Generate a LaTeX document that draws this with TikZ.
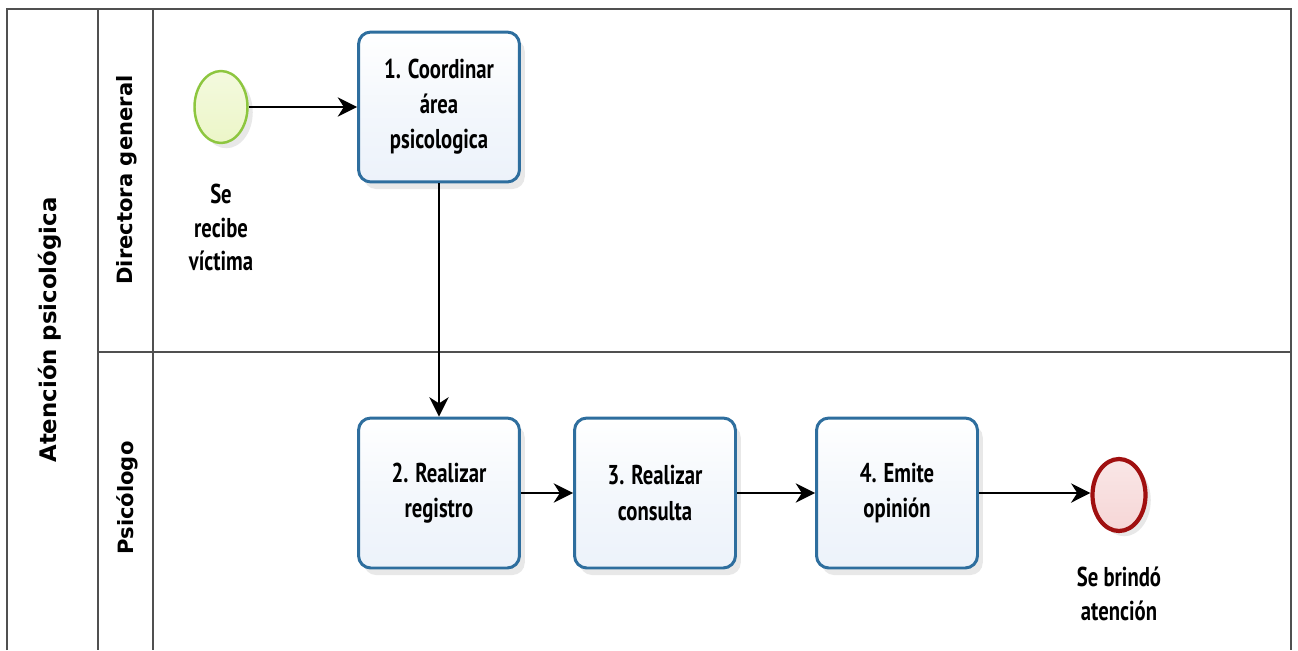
\documentclass[tikz,border=0pt]{standalone}
\usepackage{fontspec}
\setmainfont{PT Sans}
\newfontfamily\agency{PT Sans}[FakeStretch=0.76]
\newfontfamily\lanefont{DejaVu Sans}
\usetikzlibrary{arrows.meta,shapes.geometric,shadows}
\definecolor{taskborder}{RGB}{46,110,158}
\definecolor{taskfill}{RGB}{236,242,250}
\definecolor{startborder}{RGB}{141,198,63}
\definecolor{startfill}{RGB}{236,246,200}
\definecolor{endborder}{RGB}{160,16,16}
\definecolor{endfill}{RGB}{246,214,214}
\definecolor{laneline}{RGB}{80,80,80}
\tikzset{
  task/.style={draw=taskborder, line width=1.7pt, rounded corners=7pt,
    top color=white, bottom color=taskfill, middle color=taskfill!60,
    minimum width=3.22cm, minimum height=3.0cm, inner sep=0pt,
    align=center, font=\agency\bfseries\fontsize{15.5}{20}\selectfont,
    drop shadow={shadow xshift=3pt, shadow yshift=-4pt, opacity=0.18}},
  startev/.style={draw=startborder, ellipse, line width=1.4pt,
    top color=startfill!60, bottom color=startfill,
    minimum width=1.06cm, minimum height=1.44cm, inner sep=0pt,
    drop shadow={shadow xshift=3pt, shadow yshift=-3pt, opacity=0.18}},
  endev/.style={draw=endborder, ellipse, line width=2.4pt,
    top color=endfill!60, bottom color=endfill,
    minimum width=1.06cm, minimum height=1.44cm, inner sep=0pt,
    drop shadow={shadow xshift=3pt, shadow yshift=-3pt, opacity=0.18}},
  evlabel/.style={align=center, font=\agency\bfseries\fontsize{15.5}{19}\selectfont},
  flow/.style={line width=1pt, -{Stealth[length=11pt,width=11pt,inset=3.5pt]}},
  lane/.style={draw=laneline, line width=0.8pt},
  lanelabel/.style={rotate=90, font=\lanefont\bfseries\fontsize{12}{14}\selectfont}
}
\begin{document}
\begin{tikzpicture}[x=0.02cm, y=-0.02cm]
\useasboundingbox (0,0) rectangle (1298,650);
% pool and lanes
\draw[lane] (7,650) -- (7,9) -- (1291,9) -- (1291,650);
\draw[lane] (98,9) -- (98,650);
\draw[lane] (153,9) -- (153,650);
\draw[lane] (98,352) -- (1291,352);
\node[lanelabel, font=\lanefont\bfseries\fontsize{13}{15}\selectfont] (pool) at (50,330) {Atención psicológica};
\node[lanelabel] (lane1) at (127,180) {Directora general};
\node[lanelabel] (lane2) at (127,498) {Psicólogo};
% nodes
\node[startev] (start) at (221,107) {};
\node[evlabel, anchor=north] (startlbl) at (221,178) {Se\\recibe\\víctima};
\node[task] (t1) at (439,107) {1. Coordinar\\área\\psicologica};
\node[task] (t2) at (439,493) {2. Realizar\\registro};
\node[task] (t3) at (655,493) {3. Realizar\\consulta};
\node[task] (t4) at (897,493) {4. Emite\\opinión};
\node[endev] (end) at (1119,495) {};
\node[evlabel, anchor=north] (endlbl) at (1119,561) {Se brindó\\atención};
% flows
\draw[flow] (start) -- (t1);
\draw[flow] (t1) -- (t2);
\draw[flow] (t2) -- (t3);
\draw[flow] (t3) -- (t4);
\draw[flow] (t4.east) -- (end.west |- t4.east);
\end{tikzpicture}
\end{document}
